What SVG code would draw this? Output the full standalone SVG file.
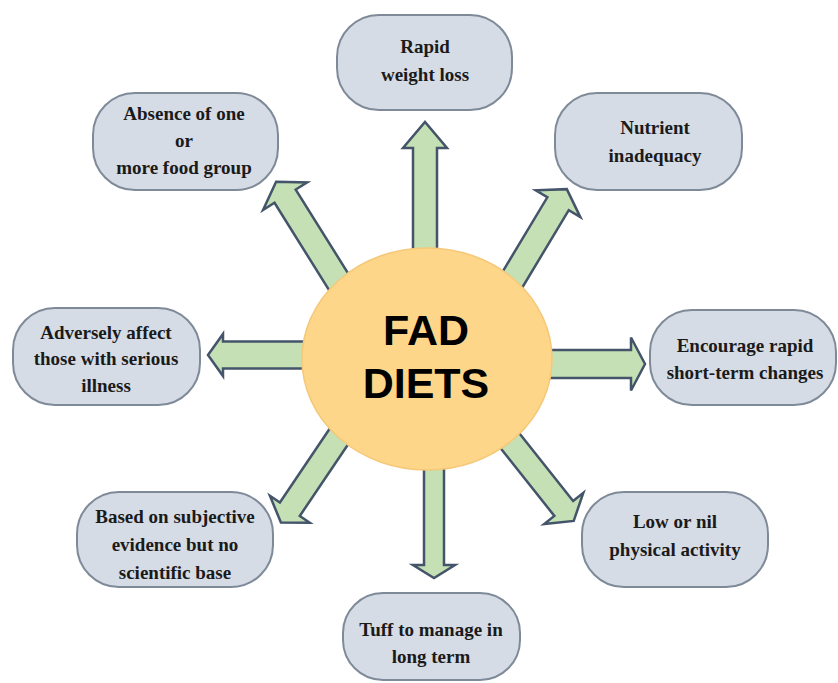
<svg xmlns="http://www.w3.org/2000/svg" width="838" height="683" viewBox="0 0 838 683">
<style>
.box{fill:#d6dce5;stroke:#7f8a99;stroke-width:2}
.arr{fill:#c5e0b4;stroke:#44546a;stroke-width:2.5;stroke-linejoin:miter}
.t{font-weight:700;font-size:19px;fill:#1a1a1a;text-anchor:middle}
.hub{font-weight:bold;font-size:43px;fill:#000;text-anchor:middle}
</style>
<rect width="838" height="683" fill="#ffffff"/>
<g id="connectors">
<polygon class="arr" transform="translate(425,262) rotate(-90)" points="0,-12 114,-12 114,-22 140,0 114,22 114,12 0,12"/>
<polygon class="arr" transform="translate(505,292) rotate(-59)" points="0,-12.5 103,-12.5 103,-26 120,0 103,26 103,12.5 0,12.5"/>
<polygon class="arr" transform="translate(540,364) rotate(0)" points="0,-14 91,-14 91,-26.5 105,0 91,26.5 91,14 0,14"/>
<polygon class="arr" transform="translate(499,427) rotate(51.5)" points="0,-12 104,-12 104,-25 120,0 104,25 104,12 0,12"/>
<polygon class="arr" transform="translate(434,455) rotate(90)" points="0,-10 110,-10 110,-21 123,0 110,21 110,10 0,10"/>
<polygon class="arr" transform="translate(348,423) rotate(124)" points="0,-12 104,-12 104,-24 120,0 104,24 104,12 0,12"/>
<polygon class="arr" transform="translate(315,355) rotate(180)" points="0,-13.5 92,-13.5 92,-21 107,0 92,21 92,13.5 0,13.5"/>
<polygon class="arr" transform="translate(345,292) rotate(-122)" points="0,-12.5 113,-12.5 113,-26 130,0 113,26 113,12.5 0,12.5"/>
</g>
<g id="hub" font-family="Liberation Sans, Arial, sans-serif">
<ellipse cx="427" cy="359" rx="125" ry="111" fill="#fed68a" stroke="#f5c878" stroke-width="1.5"/>
<text class="hub" x="426" y="345">FAD</text>
<text class="hub" x="426" y="398">DIETS</text>
</g>
<g id="n-rapid" font-family="Liberation Serif, Times New Roman, serif">
<rect class="box" x="337" y="15" width="175" height="95" rx="42"/>
<text class="t" x="425" y="53">Rapid</text>
<text class="t" x="425" y="81">weight loss</text>
</g>
<g id="n-nutrient" font-family="Liberation Serif, Times New Roman, serif">
<rect class="box" x="555" y="93" width="187" height="97" rx="42"/>
<text class="t" x="655" y="134">Nutrient</text>
<text class="t" x="655" y="162">inadequacy</text>
</g>
<g id="n-absence" font-family="Liberation Serif, Times New Roman, serif">
<rect class="box" x="93" y="93" width="185" height="97" rx="42"/>
<text class="t" x="184" y="120">Absence of one</text>
<text class="t" x="184" y="147">or</text>
<text class="t" x="184" y="174">more food group</text>
</g>
<g id="n-adversely" font-family="Liberation Serif, Times New Roman, serif">
<rect class="box" x="13" y="308" width="187" height="97" rx="42"/>
<text class="t" x="106" y="339">Adversely affect</text>
<text class="t" x="106" y="365">those with serious</text>
<text class="t" x="106" y="392">illness</text>
</g>
<g id="n-encourage" font-family="Liberation Serif, Times New Roman, serif">
<rect class="box" x="650" y="310" width="186" height="95" rx="42"/>
<text class="t" x="745" y="352">Encourage rapid</text>
<text class="t" x="745" y="379">short-term changes</text>
</g>
<g id="n-based" font-family="Liberation Serif, Times New Roman, serif">
<rect class="box" x="77" y="492" width="196" height="95" rx="42"/>
<text class="t" x="175" y="523">Based on subjective</text>
<text class="t" x="175" y="551">evidence but  no</text>
<text class="t" x="175" y="579">scientific base</text>
</g>
<g id="n-low" font-family="Liberation Serif, Times New Roman, serif">
<rect class="box" x="582" y="492" width="186" height="95" rx="42"/>
<text class="t" x="675" y="528">Low or nil</text>
<text class="t" x="675" y="556">physical activity</text>
</g>
<g id="n-tuff" font-family="Liberation Serif, Times New Roman, serif">
<rect class="box" x="343" y="593" width="177" height="87" rx="40"/>
<text class="t" x="431" y="636">Tuff to manage in</text>
<text class="t" x="431" y="663">long term</text>
</g>
</svg>
